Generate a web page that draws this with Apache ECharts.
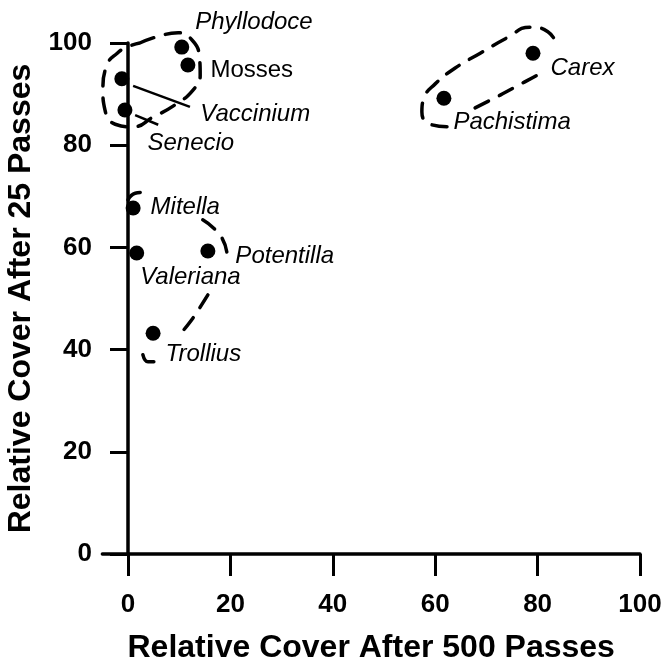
<!DOCTYPE html>
<html>
<head>
<meta charset="utf-8">
<script src="https://cdn.jsdelivr.net/npm/echarts@6/dist/echarts.min.js"></script>
<style>
html,body{margin:0;padding:0;background:#fff;}
#chart{width:668px;height:664px;}
</style>
</head>
<body>
<div id="chart"></div>
<script>
// species cover values (x = after 500 passes, y = after 25 passes)
var species  = ['Phyllodoce', 'Mosses', 'Vaccinium', 'Senecio', 'Carex', 'Pachistima', 'Mitella', 'Valeriana', 'Potentilla', 'Trollius'];
var cover500 = [10.5, 11.7, -1.2, -0.6, 79.1, 61.7, 1.0, 1.7, 15.6, 4.9];
var cover25  = [99.2, 95.7, 93.0, 86.9, 98.0, 89.2, 67.7, 58.9, 59.3, 43.2];

var axisTicks = [0, 20, 40, 60, 80, 100];

// dashed group outlines, in data units (pieces left open where labels sit)
var groupTop = [[2.3,100],[6.25,101.4],[9.8,102],[12.5,100.6],[13.9,97.6],[14.1,93.7],[12.7,90.8],
                [9.2,87.9],[4.9,85.5],[1.0,83.6],[-2.5,84.1],[-4.5,86.9],[-4.9,90.8],[-4.1,95.7],
                [-2.1,98.0],[-0.2,99.2],[2.3,100]];
var groupRightUpper = [[62.3,83.6],[59.0,84.1],[57.4,86.5],[57.8,89.2],[60.0,92.0],[63.9,95.1],
                       [68.8,98.0],[74.0,101.0],[78.5,103.1],[82.0,102.2],[83.8,99.6]];
var groupRightLower = [[67.8,87.3],[72.7,89.8],[77.5,92.4],[81.4,94.5]];
var groupMidTop    = [[0,69.3],[1.4,70.6],[3.2,70.8]];
var groupMidRight  = [[14.6,65.4],[18.0,62.4],[19.3,59.1]];
var groupMidLower  = [[15.6,50.7],[12.7,46.2],[9.8,42.5]];
var groupMidBottom = [[2.9,39.0],[3.9,37.6],[5.3,37.6]];

// leader lines from label to point
var leaderVaccinium = [[1.0,91.6],[12.1,87.5]];
var leaderSenecio   = [[1.4,85.9],[5.9,84.0]];

var font = "'Liberation Sans', Arial, Helvetica, sans-serif";

// label offsets (px) relative to the default 'right' position
var labelPlace = {
    Phyllodoce: [1, -25], Mosses: [10, 5], Vaccinium: [66, 36], Senecio: [10, 33],
    Carex: [5, 15], Pachistima: [-3, 24], Mitella: [5, -1], Potentilla: [15, 5],
    Valeriana: [-9, 24], Trollius: [0, 21]
};

var points = species.map(function (n, i) {
    return {
        name: n,
        value: [cover500[i], cover25[i]],
        label: {offset: labelPlace[n], fontStyle: n === 'Mosses' ? 'normal' : 'italic'}
    };
});

function dashed(data, smooth) {
    return {
        type: 'line', data: data, smooth: smooth, symbol: 'none', clip: false, silent: true,
        lineStyle: {color: '#000', width: 3.5, type: [15, 12], cap: 'round'}
    };
}
function leader(data) {
    return {
        type: 'line', data: data, symbol: 'none', clip: false, silent: true,
        lineStyle: {color: '#000', width: 2.5}
    };
}

var chart = echarts.init(document.getElementById('chart'));
var labelStyle = {color: '#000', fontFamily: font, fontWeight: 'bold', fontSize: 26};
var nameStyle = {color: '#000', fontFamily: font, fontWeight: 'bold', fontSize: 32};

var option = {
    animation: false,
    backgroundColor: '#fff',
    grid: {left: 102.4, right: 28, top: 43, bottom: 110, containLabel: false, outerBoundsMode: 'none'},
    xAxis: {
        type: 'value', min: -5, max: 100,
        name: 'Relative Cover After 500 Passes', nameLocation: 'middle', nameGap: 78,
        nameTextStyle: nameStyle,
        splitLine: {show: false},
        axisLine: {lineStyle: {color: '#000', width: 3.5}},
        axisTick: {length: 22, customValues: axisTicks, lineStyle: {color: '#000', width: 3}},
        axisLabel: echarts.util.extend({margin: 38, customValues: axisTicks}, labelStyle)
    },
    yAxis: {
        type: 'value', min: 0, max: 100, interval: 20,
        name: 'Relative Cover After 25 Passes', nameLocation: 'middle', nameGap: 65,
        nameMoveOverlap: false,
        nameTextStyle: nameStyle,
        splitLine: {show: false},
        axisLine: {onZero: true, lineStyle: {color: '#000', width: 3.5}},
        axisTick: {length: 18, lineStyle: {color: '#000', width: 3}},
        axisLabel: echarts.util.extend({margin: 10.4}, labelStyle)
    },
    series: [
        dashed(groupTop, 0.5),
        dashed(groupRightUpper, 0.5),
        dashed(groupRightLower, 0.3),
        dashed(groupMidTop, 0.5),
        dashed(groupMidRight, 0.5),
        dashed(groupMidLower, 0.3),
        dashed(groupMidBottom, 0.5),
        leader(leaderVaccinium),
        leader(leaderSenecio),
        {
            type: 'scatter', data: points, symbolSize: 15, clip: false, silent: true,
            itemStyle: {color: '#000', opacity: 1},
            label: {
                show: true, position: 'right', formatter: '{b}', color: '#000',
                fontFamily: font, fontSize: 24
            }
        }
    ]
};
chart.setOption(option);
</script>
</body>
</html>
